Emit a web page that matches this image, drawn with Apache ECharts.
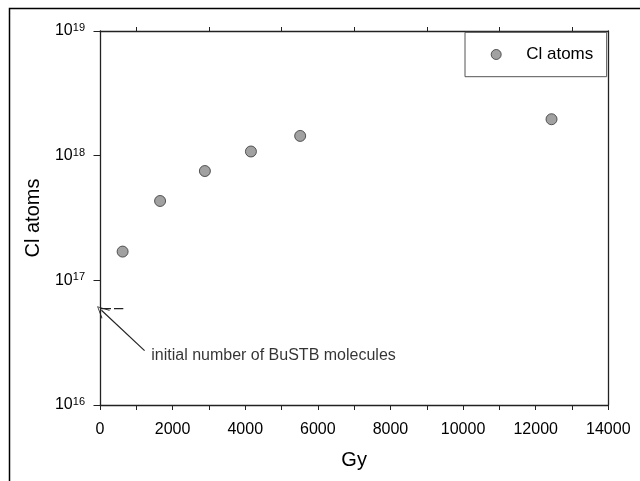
<!DOCTYPE html>
<html><head><meta charset="utf-8">
<script src="https://cdn.jsdelivr.net/npm/echarts@6/dist/echarts.min.js"></script>
<style>html,body{margin:0;padding:0;background:#fff}#c{width:640px;height:481px}</style>
</head><body><div id="c"></div>
<script>
const doseGy = [623, 1655, 2889, 4157, 5513, 12436];
const clAtoms = [1.70e17, 4.33e17, 7.53e17, 1.08e18, 1.44e18, 1.96e18];
const initialLevel = [[0, 5.92e16], [642, 5.92e16]];
const arrowFrom = [1228, 2.73e16];
const arrowTo = [40, 5.75e16];
const annotationPos = [1411, 2.48e16];
const annotationText = 'initial number of BuSTB molecules';
const xTicks = [0, 2000, 4000, 6000, 8000, 10000, 12000, 14000];

const chart = echarts.init(document.getElementById('c'));
const font = 'Liberation Sans, Arial, sans-serif';
const axisCol = '#222';
chart.setOption({
  animation: false,
  grid: {left: 100, right: 31.7, top: 31, bottom: 76},
  graphic: [{type: 'rect', shape: {x: 9.5, y: 8.5, width: 700, height: 600}, style: {fill: 'none', stroke: '#000', lineWidth: 1.5}, silent: true}],
  legend: {
    left: 465, top: 32.3, data: ['Cl atoms'], icon: 'circle', itemWidth: 10, itemHeight: 10,
    padding: [13.7, 13.4, 13.7, 25.7], borderColor: '#555', borderWidth: 1,
    itemStyle: {color: '#8a8a8a', borderColor: '#333', borderWidth: 1},
    textStyle: {fontFamily: font, fontSize: 17, color: '#000', padding: [0, 0, 0, 20]}
  },
  xAxis: [{
    type: 'value', min: 0, max: 14000, interval: 1000,
    axisLine: {show: true, onZero: false, lineStyle: {color: axisCol, width: 1.3}},
    axisTick: {show: true, inside: false, length: 5, lineStyle: {color: axisCol}},
    splitLine: {show: false},
    name: 'Gy', nameLocation: 'middle', nameGap: 45,
    nameTextStyle: {fontFamily: font, fontSize: 20, color: '#000'},
    axisLabel: {margin: 16.5, fontFamily: font, fontSize: 16, color: '#000',
      formatter: v => xTicks.indexOf(v) >= 0 ? String(v) : ''}
  }, {
    type: 'value', position: 'top', min: 0, max: 14000, interval: 2000,
    axisLine: {show: true, onZero: false, lineStyle: {color: axisCol, width: 1.3}},
    axisTick: {show: false},
    minorTick: {show: true, splitNumber: 2, length: 4, lineStyle: {color: axisCol, width: 1}},
    axisLabel: {show: false}, splitLine: {show: false}, minorSplitLine: {show: false}
  }],
  yAxis: [{
    type: 'log', logBase: 10, min: 1e16, max: 1e19,
    axisLine: {show: true, onZero: false, lineStyle: {color: axisCol, width: 1.3}},
    axisTick: {show: true, inside: false, length: 6.5, lineStyle: {color: axisCol}},
    splitLine: {show: false}, minorTick: {show: false},
    name: 'Cl atoms', nameLocation: 'middle', nameGap: 56.7, nameRotate: 90,
    nameTextStyle: {fontFamily: font, fontSize: 20, color: '#000'},
    axisLabel: {margin: 15, fontFamily: font, color: '#000',
      formatter: v => '{b|10}{s|' + Math.round(Math.log10(v)) + '}',
      rich: {b: {fontSize: 16, lineHeight: 17, fontFamily: font, color: '#000'},
             s: {fontSize: 11, lineHeight: 11, fontFamily: font, color: '#000', verticalAlign: 'top'}}}
  }, {
    type: 'value', min: 0, max: 1, position: 'right',
    axisLine: {show: true, onZero: false, lineStyle: {color: axisCol, width: 1.3}},
    axisTick: {show: false}, axisLabel: {show: false}, splitLine: {show: false}
  }],
  series: [{
    name: 'Cl atoms', type: 'scatter', symbol: 'circle', symbolSize: 11,
    itemStyle: {color: '#8a8a8a', borderColor: '#333', borderWidth: 1},
    data: doseGy.map((x, i) => [x, clAtoms[i]]), z: 5
  }, {
    type: 'line', data: initialLevel, symbol: 'none', silent: true,
    lineStyle: {color: '#222', width: 1.2, type: [11, 3]},
    markLine: {
      silent: true, symbolSize: [12, 12],
      lineStyle: {color: '#222', width: 1.2, type: 'solid'},
      label: {show: false},
      data: [[{coord: arrowFrom, symbol: 'none'}, {coord: arrowTo, symbol: 'path://M0,0 L-6,12 L-5,12 L0,1.5 L5,12 L6,12 Z'}]]
    }
  }, {
    type: 'scatter', symbolSize: 0, silent: true, data: [annotationPos],
    label: {show: true, position: 'right', distance: 0, formatter: annotationText,
      fontFamily: font, fontSize: 16, color: '#000'}
  }]
});
</script></body></html>
